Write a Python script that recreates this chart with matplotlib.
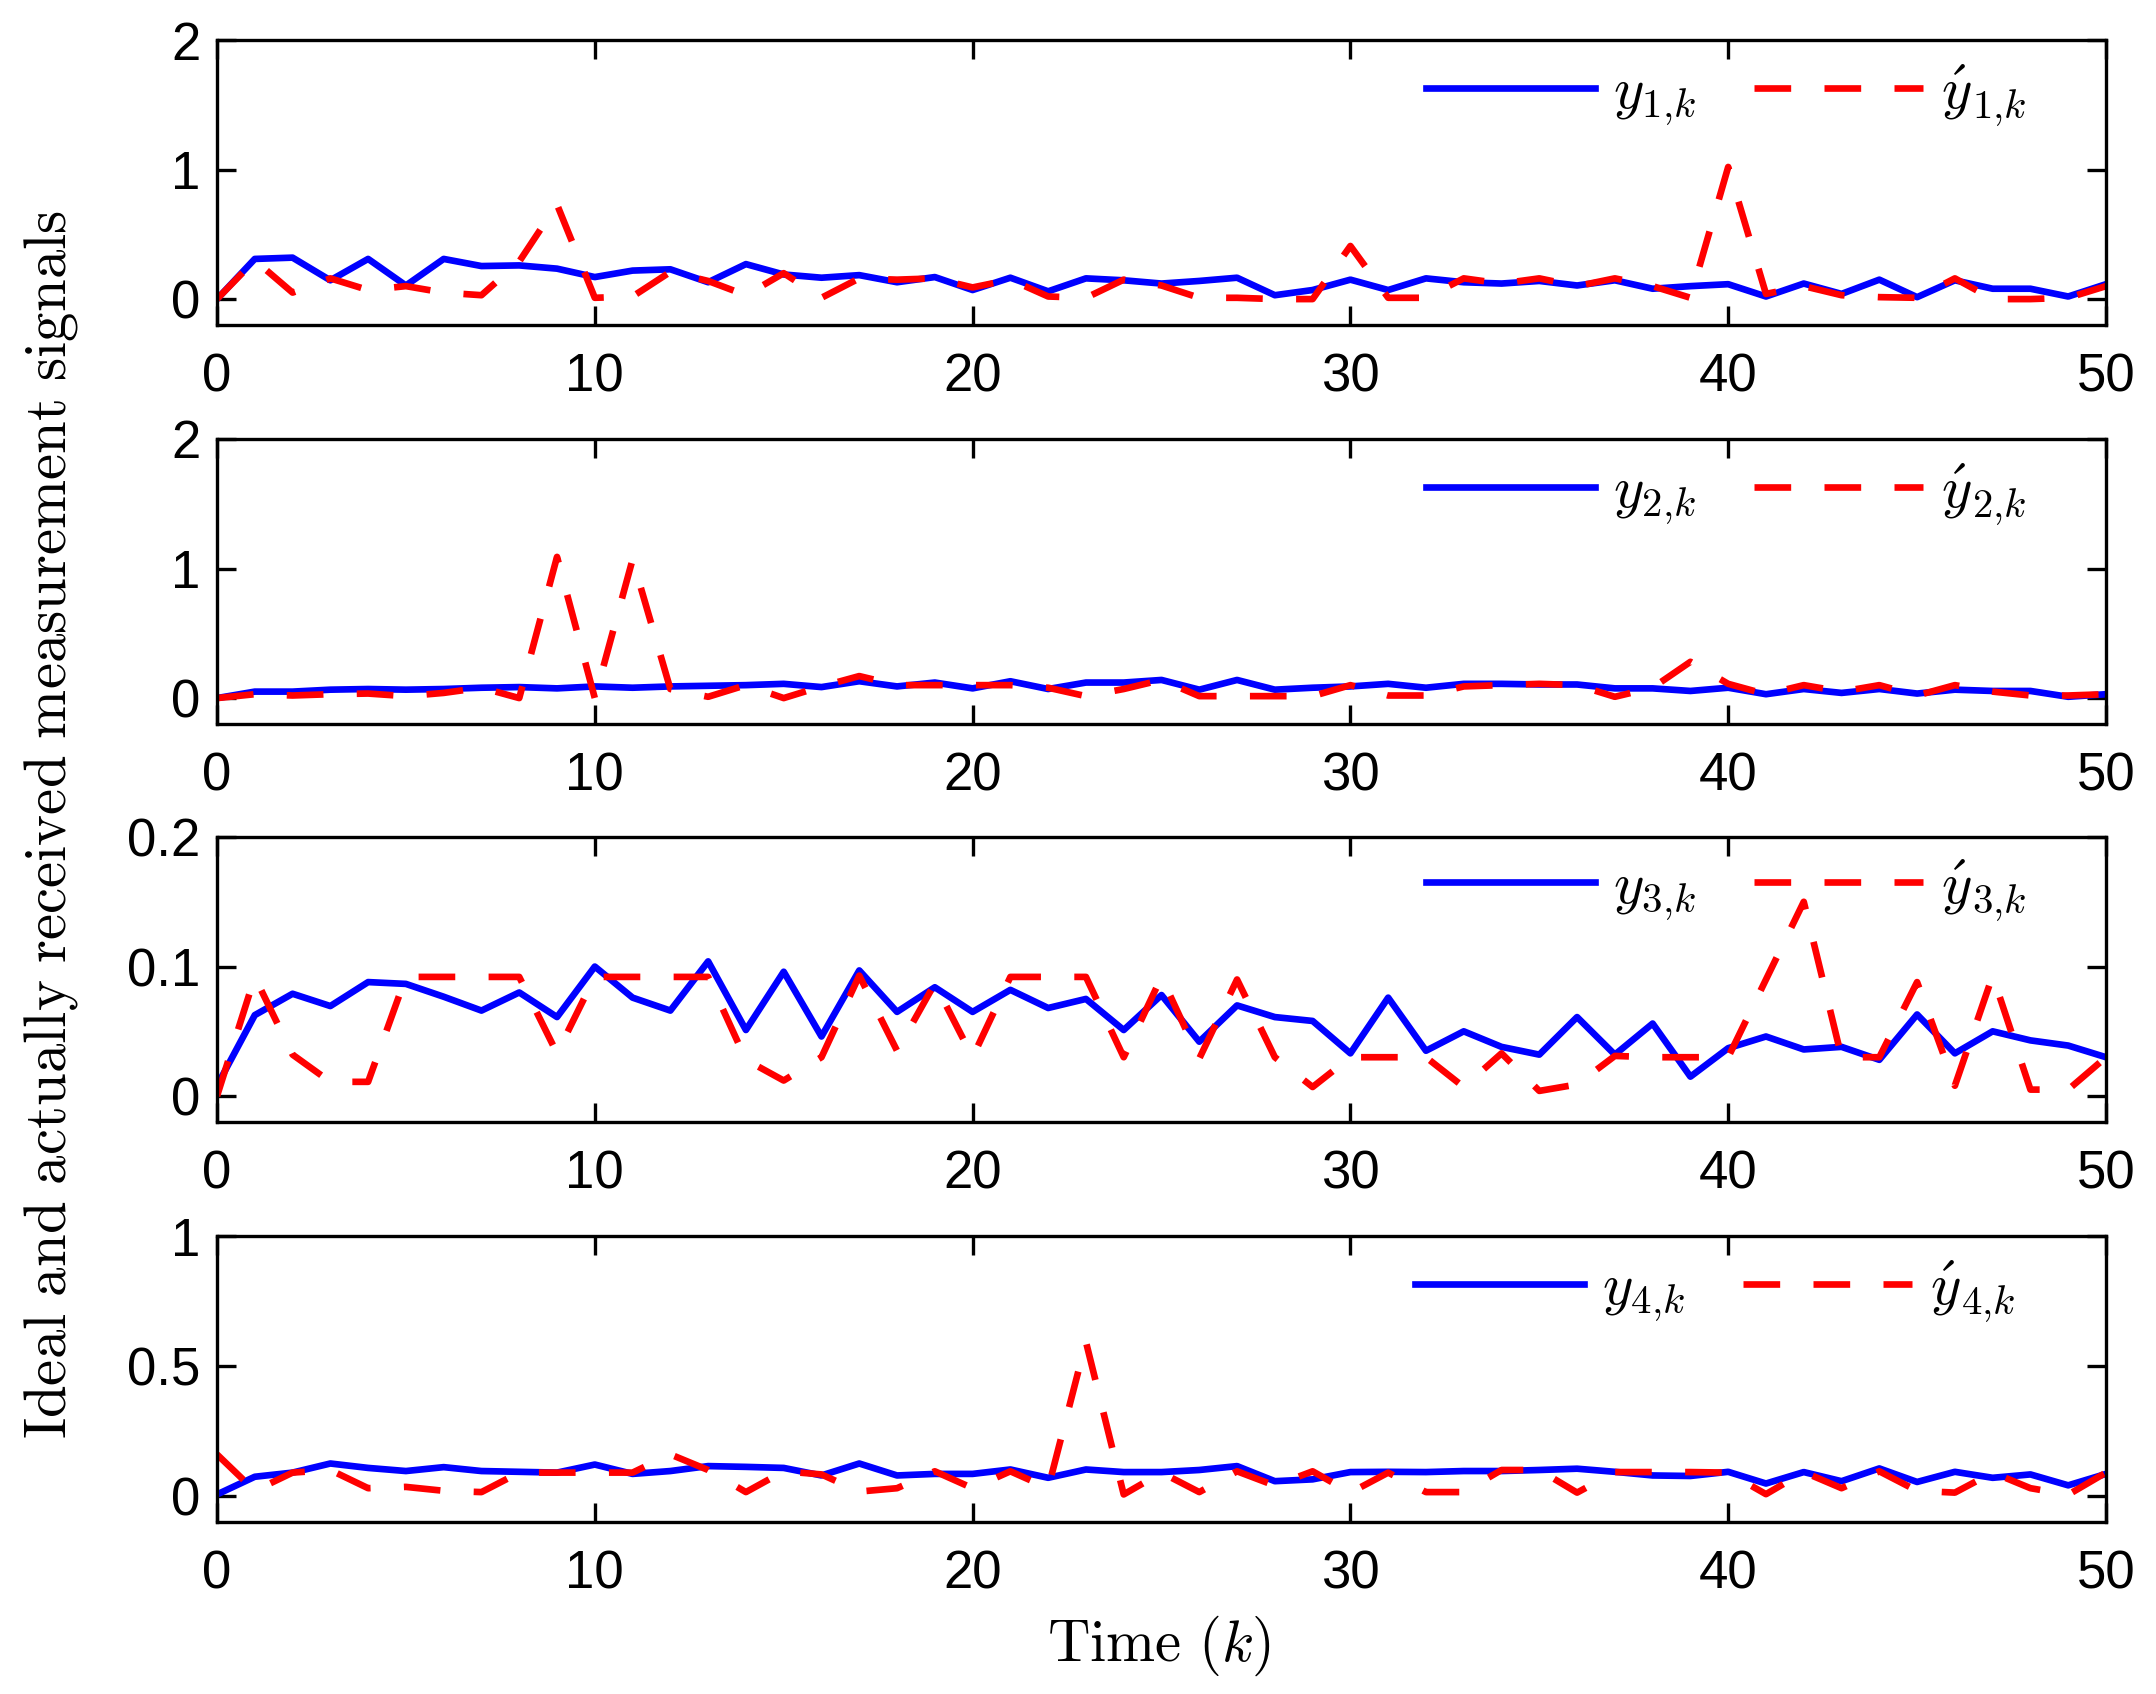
import matplotlib
matplotlib.use("Agg")
import matplotlib.pyplot as plt
from matplotlib.ticker import FormatStrFormatter

plt.rcParams['font.family'] = ['Liberation Sans', 'DejaVu Sans']
plt.rcParams['mathtext.fontset'] = 'cm'

k = list(range(51))

y1 = [0.0, 0.31, 0.32, 0.145, 0.31, 0.105, 0.31, 0.255, 0.26, 0.235, 0.17,
      0.22, 0.23, 0.13, 0.27, 0.19, 0.165, 0.185, 0.13, 0.17, 0.07,
      0.165, 0.06, 0.16, 0.145, 0.12, 0.14, 0.165, 0.03, 0.07, 0.15,
      0.07, 0.16, 0.13, 0.12, 0.14, 0.105, 0.145, 0.08, 0.1, 0.115,
      0.02, 0.12, 0.04, 0.15, 0.015, 0.145, 0.08, 0.08, 0.02, 0.115]
y1r = [0.0, 0.3, 0.05, 0.16, 0.07, 0.1, 0.05, 0.03, 0.29, 0.73, 0.01,
       0.02, 0.21, 0.14, 0.03, 0.2, 0.01, 0.16, 0.15, 0.16, 0.09,
       0.15, 0.02, 0.01, 0.15, 0.105, 0.01, 0.01, 0.0, 0.0, 0.41,
       0.01, 0.01, 0.16, 0.12, 0.16, 0.1, 0.16, 0.1, 0.01, 1.02,
       0.04, 0.1, 0.03, 0.015, 0.01, 0.16, 0.0, 0.0, 0.01, 0.1]

y2 = [0.0, 0.05, 0.05, 0.065, 0.07, 0.065, 0.07, 0.08, 0.085, 0.075, 0.09,
      0.08, 0.09, 0.095, 0.1, 0.11, 0.085, 0.13, 0.09, 0.12, 0.075,
      0.13, 0.07, 0.12, 0.12, 0.14, 0.065, 0.14, 0.065, 0.08, 0.09,
      0.11, 0.08, 0.11, 0.11, 0.105, 0.105, 0.075, 0.075, 0.055, 0.08,
      0.03, 0.07, 0.04, 0.07, 0.035, 0.065, 0.055, 0.055, 0.01, 0.03]
y2r = [0.0, 0.03, 0.02, 0.03, 0.035, 0.015, 0.04, 0.08, 0.0, 1.09, 0.0,
       1.07, 0.07, 0.01, 0.1, 0.0, 0.09, 0.17, 0.1, 0.1, 0.1,
       0.1, 0.08, 0.015, 0.07, 0.14, 0.015, 0.015, 0.015, 0.015, 0.1,
       0.02, 0.02, 0.09, 0.1, 0.11, 0.1, 0.01, 0.08, 0.28, 0.11,
       0.03, 0.1, 0.05, 0.1, 0.02, 0.1, 0.05, 0.02, 0.02, 0.03]

y3 = [0.008, 0.0625, 0.079, 0.0695, 0.088, 0.0866, 0.0767, 0.066, 0.08, 0.061, 0.1,
      0.076, 0.066, 0.104, 0.051, 0.096, 0.046, 0.097, 0.065, 0.084, 0.065,
      0.082, 0.068, 0.075, 0.051, 0.078, 0.042, 0.07, 0.061, 0.058, 0.033,
      0.076, 0.035, 0.05, 0.038, 0.032, 0.061, 0.032, 0.056, 0.015, 0.037,
      0.046, 0.036, 0.038, 0.028, 0.063, 0.033, 0.05, 0.043, 0.039, 0.03]
y3r = [0.0, 0.092, 0.032, 0.011, 0.011, 0.092, 0.092, 0.092, 0.092, 0.033, 0.092,
       0.092, 0.092, 0.092, 0.028, 0.012, 0.03, 0.093, 0.035, 0.087, 0.03,
       0.092, 0.092, 0.092, 0.03, 0.092, 0.029, 0.09, 0.03, 0.007, 0.03,
       0.03, 0.03, 0.007, 0.033, 0.004, 0.009, 0.031, 0.03, 0.03, 0.03,
       0.09, 0.15, 0.03, 0.03, 0.088, 0.008, 0.093, 0.005, 0.005, 0.03]

y4 = [0.006, 0.074, 0.09, 0.125, 0.108, 0.096, 0.111, 0.096, 0.093, 0.09, 0.121,
      0.085, 0.096, 0.115, 0.112, 0.108, 0.079, 0.125, 0.079, 0.085, 0.085,
      0.102, 0.07, 0.102, 0.092, 0.092, 0.1, 0.115, 0.057, 0.064, 0.092,
      0.093, 0.092, 0.096, 0.096, 0.1, 0.105, 0.093, 0.079, 0.077, 0.093,
      0.048, 0.092, 0.057, 0.106, 0.054, 0.093, 0.07, 0.083, 0.041, 0.085]
y4r = [0.16, 0.02, 0.09, 0.1, 0.03, 0.035, 0.02, 0.015, 0.09, 0.09, 0.09,
       0.09, 0.16, 0.1, 0.015, 0.095, 0.083, 0.017, 0.03, 0.095, 0.03,
       0.095, 0.03, 0.593, 0.006, 0.09, 0.015, 0.095, 0.04, 0.095, 0.013,
       0.09, 0.015, 0.015, 0.1, 0.1, 0.013, 0.092, 0.092, 0.092, 0.09,
       0.007, 0.092, 0.03, 0.095, 0.02, 0.013, 0.09, 0.03, 0.005, 0.09]

xticks = [0, 10, 20, 30, 40, 50]
ylims = [(-0.2, 2), (-0.2, 2), (-0.02, 0.2), (-0.1, 1)]
yticks = [[0, 1, 2], [0, 1, 2], [0, 0.1, 0.2], [0, 0.5, 1]]
series = [(y1, y1r), (y2, y2r), (y3, y3r), (y4, y4r)]

fig = plt.figure(figsize=(10.78, 8.47), dpi=200)
W, H = 2156.0, 1694.0
left, right = 217 / W, 2106 / W
boxes = [(40, 325), (439, 724), (837, 1122), (1236, 1522)]
leg_anchor = [(0.958, 0.805), (0.958, 0.805), (0.958, 0.815), (0.952, 0.807)]

for i, ((top, bot), (ys, yr)) in enumerate(zip(boxes, series)):
    ax = fig.add_axes([left, 1 - bot / H, right - left, (bot - top) / H])
    ax.plot(k, ys, color=(0, 0, 1), lw=2.4, label=r'$y_{%d{,}k}$' % (i + 1))
    ax.plot(k, yr, color=(1, 0, 0), lw=2.4, ls=(0, (5.5, 5)),
            label=r'$\acute{y}_{%d{,}k}$' % (i + 1))
    ax.set_xlim(0, 50)
    ax.set_ylim(*ylims[i])
    ax.set_xticks(xticks)
    ax.set_yticks(yticks[i])
    ax.yaxis.set_major_formatter(FormatStrFormatter('%g'))
    ax.tick_params(direction='in', top=True, right=True, length=6.8, width=1.2,
                   labelsize=19)
    ax.tick_params(axis='x', pad=10)
    ax.tick_params(axis='y', pad=6)
    for sp in ax.spines.values():
        sp.set_linewidth(1.2)
    ax.legend(loc='center right', bbox_to_anchor=leg_anchor[i], ncol=2,
              frameon=False, fontsize=21, handlelength=2.9, handletextpad=0.3,
              columnspacing=1.0, borderpad=0, borderaxespad=0)

fig.text(0.0236, 0.513,
         r'$\mathrm{Ideal\ and\ actually\ received\ measurement\ signals}$',
         rotation=90, ha='center', va='center', fontsize=21.2)
fig.text(0.5376, 0.0284, r'$\mathrm{Time}\ (k)$', ha='center', va='center',
         fontsize=21.2)

fig.savefig('out.png', dpi=200)
